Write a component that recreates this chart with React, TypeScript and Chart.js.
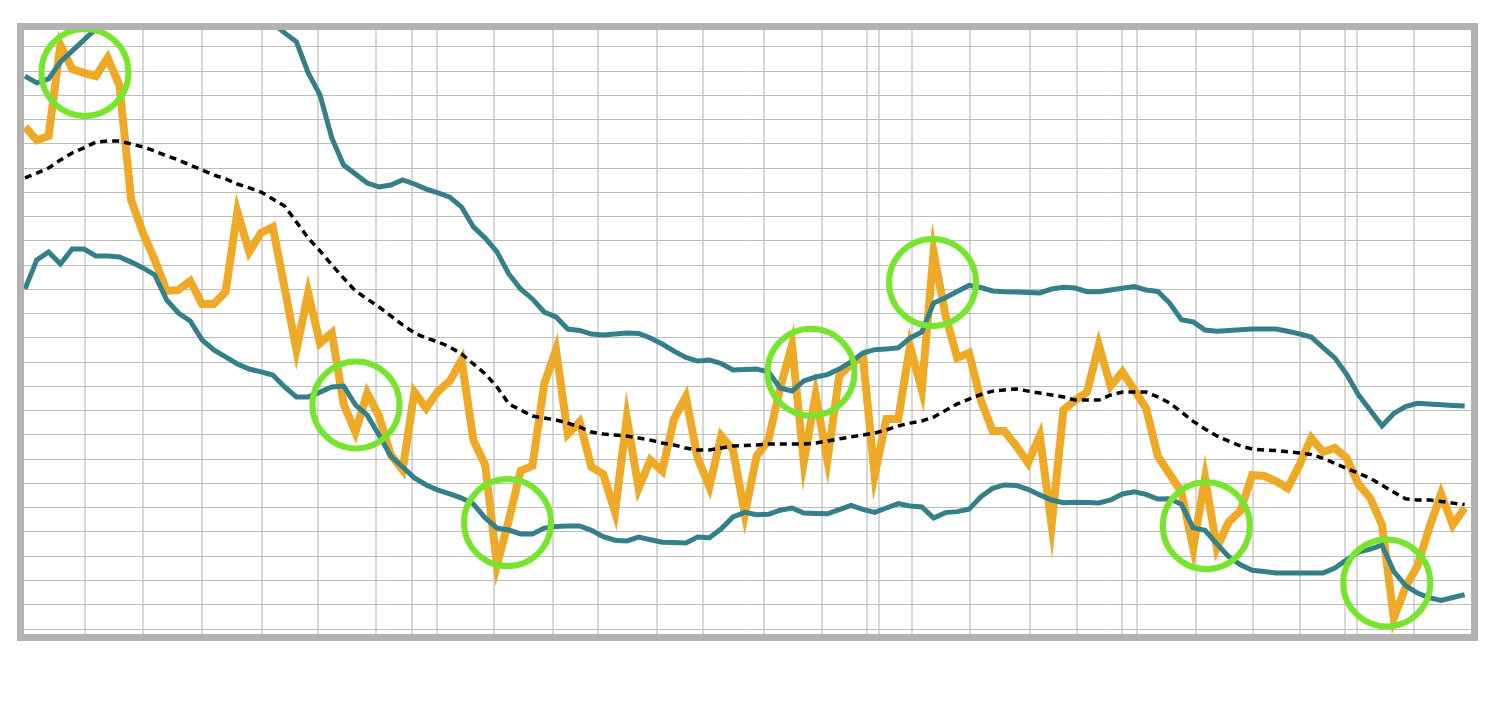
import React, { useEffect, useRef } from 'react';
import { Chart, registerables } from 'chart.js';

Chart.register(...registerables);

// Closing price (grid units, one horizontal grid line per unit)
const price = [
  20.70, 20.16, 20.33, 24.08, 23.09, 22.93, 22.80, 23.55, 22.43, 17.69,
  16.33, 15.22, 13.94, 13.98, 14.35, 13.40, 13.40, 13.90, 17.20, 15.55,
  16.33, 16.58, 14.06, 11.51, 13.86, 11.79, 12.21, 9.28, 8.12, 9.73,
  8.78, 7.18, 6.56, 9.77, 9.11, 9.81, 10.23, 11.09, 7.79, 6.76,
  2.64, 4.49, 6.52, 6.72, 10.10, 11.51, 8.04, 8.54, 6.68, 6.39,
  4.82, 8.70, 5.81, 6.97, 6.52, 8.66, 9.57, 7.05, 5.86, 7.96,
  7.38, 4.74, 7.13, 7.79, 9.94, 11.71, 6.89, 9.65, 6.97, 10.43,
  10.93, 11.26, 6.35, 8.66, 8.66, 11.67, 9.86, 15.55, 12.95, 11.18,
  11.38, 9.44, 8.16, 8.16, 7.55, 6.85, 7.96, 4.29, 9.03, 9.44,
  9.77, 11.71, 10.02, 10.60, 9.86, 9.11, 7.13, 6.39, 5.65, 3.34,
  6.23, 3.34, 4.41, 4.87, 6.35, 6.31, 6.10, 5.81, 6.76, 7.88,
  7.30, 7.46, 7.05, 5.98, 5.40, 4.29, 0.45, 1.73, 2.60, 4.16,
  5.57, 4.29, 4.99,
];

// Moving average (middle band)
const middleBand = [
  18.60, 18.80, 19.01, 19.34, 19.63, 19.84, 20.08, 20.12, 20.12, 20.00,
  19.88, 19.71, 19.51, 19.34, 19.13, 18.93, 18.72, 18.56, 18.35, 18.19,
  18.02, 17.73, 17.44, 16.78, 16.12, 15.59, 15.01, 14.47, 13.94, 13.61,
  13.28, 12.91, 12.54, 12.21, 12.00, 11.84, 11.63, 11.34, 10.93, 10.52,
  9.98, 9.28, 9.03, 8.78, 8.70, 8.62, 8.49, 8.33, 8.12, 8.04,
  8.00, 7.96, 7.88, 7.79, 7.67, 7.59, 7.46, 7.38, 7.38, 7.46,
  7.55, 7.57, 7.59, 7.63, 7.63, 7.63, 7.63, 7.67, 7.75, 7.84,
  7.92, 8.00, 8.08, 8.21, 8.37, 8.49, 8.58, 8.74, 9.01, 9.28,
  9.48, 9.67, 9.81, 9.86, 9.90, 9.81, 9.73, 9.65, 9.57, 9.44,
  9.44, 9.44, 9.65, 9.77, 9.77, 9.77, 9.57, 9.32, 8.95, 8.56,
  8.25, 7.96, 7.75, 7.55, 7.42, 7.38, 7.36, 7.31, 7.26, 7.20,
  7.04, 6.83, 6.62, 6.42, 6.21, 5.93, 5.64, 5.37, 5.32, 5.32,
  5.26, 5.19, 5.13,
];

// Upper Bollinger band
const upperBand = [
  22.80, 22.52, 22.68, 23.38, 23.84, 24.29, 24.74, 24.87, 24.91, 24.87,
  24.87, 24.82, 25.44, 25.65, 25.57, 25.94, 25.94, 25.90, 25.77, 25.65,
  25.44, 24.99, 24.58, 24.21, 22.93, 22.02, 20.25, 19.13, 18.76, 18.39,
  18.23, 18.31, 18.52, 18.35, 18.14, 17.98, 17.81, 17.40, 16.58, 16.12,
  15.55, 14.64, 14.02, 13.61, 13.07, 12.87, 12.37, 12.31, 12.16, 12.12,
  12.16, 12.21, 12.19, 12.00, 11.75, 11.46, 11.20, 11.05, 11.09, 10.95,
  10.68, 10.70, 10.72, 10.60, 9.94, 9.81, 10.23, 10.39, 10.49, 10.72,
  11.01, 11.38, 11.52, 11.55, 11.59, 12.00, 12.25, 13.44, 13.66, 13.92,
  14.17, 14.08, 13.94, 13.91, 13.90, 13.88, 13.86, 14.02, 14.09, 14.06,
  13.91, 13.91, 13.98, 14.05, 14.12, 13.98, 13.92, 13.44, 12.75, 12.66,
  12.33, 12.28, 12.31, 12.34, 12.37, 12.37, 12.37, 12.28, 12.17, 12.04,
  11.60, 11.18, 10.50, 9.66, 9.02, 8.38, 8.89, 9.17, 9.31, 9.28,
  9.25, 9.22, 9.20,
];

// Lower Bollinger band
const lowerBand = [
  14.02, 15.22, 15.55, 15.05, 15.67, 15.67, 15.38, 15.38, 15.34, 15.13,
  14.89, 14.60, 13.57, 13.03, 12.70, 11.92, 11.51, 11.22, 10.93, 10.72,
  10.60, 10.47, 9.98, 9.57, 9.57, 9.77, 9.98, 10.02, 9.24, 8.82,
  8.00, 7.13, 6.68, 6.23, 5.94, 5.73, 5.57, 5.40, 5.15, 4.58,
  4.16, 4.08, 3.92, 3.92, 4.16, 4.23, 4.25, 4.25, 4.07, 3.81,
  3.66, 3.63, 3.79, 3.68, 3.58, 3.57, 3.55, 3.79, 3.76, 4.13,
  4.62, 4.81, 4.71, 4.73, 4.90, 4.99, 4.78, 4.76, 4.75, 4.92,
  5.10, 4.93, 4.81, 4.99, 5.17, 5.07, 5.03, 4.58, 4.80, 4.84,
  4.94, 5.45, 5.80, 5.94, 5.92, 5.76, 5.53, 5.32, 5.21, 5.23,
  5.22, 5.20, 5.32, 5.57, 5.66, 5.55, 5.36, 5.37, 5.14, 4.17,
  4.07, 3.51, 2.99, 2.65, 2.42, 2.37, 2.31, 2.31, 2.31, 2.31,
  2.31, 2.51, 2.85, 3.17, 3.29, 3.46, 2.37, 1.79, 1.48, 1.29,
  1.18, 1.30, 1.42,
];

// Highlighted band touches (day index, level)
const signalDay = [5.08, 28.05, 40.89, 66.61, 76.91, 100.11, 115.4];
const signalLevel = [22.95, 9.24, 4.39, 10.59, 14.29, 4.26, 1.9];

// Vertical grid lines (week / month starts, in day index units)
const weekTicks = [
  5.08, 10.03, 15.03, 20.06, 24.86, 29.75, 32.77, 34.89, 39.77, 44.77,
  48.58, 53.58, 57.48, 62.65, 67.57, 71.38, 72.37, 75.14, 80.11, 85.17,
  89.13, 92.94, 94.26, 99.21, 104.09, 108.05, 111.86, 112.86, 117.74,
];

// Horizontal grid lines
const levelTicks = [
  0, 1, 2, 3, 4, 5, 6, 7, 8, 9, 10, 11, 12, 13, 14, 15, 16, 17, 18, 19, 20, 21, 22, 23, 24,
];

const X_MIN = -0.085;
const X_MAX = 122.54;
const Y_MIN = -0.206;
const Y_MAX = 24.7;

const ORANGE = '#EEAA26';
const TEAL = '#34808A';
const GREEN = '#77E52E';

export default function App() {
  const canvasRef = useRef<HTMLCanvasElement | null>(null);

  useEffect(() => {
    const canvas = canvasRef.current;
    if (!canvas) return;
    const days = price.map((_, i) => i);
    const toPoints = (arr: number[]) => arr.map((v, i) => ({ x: days[i], y: v }));

    const chart = new Chart(canvas, {
      type: 'line',
      data: {
        datasets: [
          {
            label: 'Signals',
            data: signalDay.map((d, k) => ({ x: d, y: signalLevel[k] })),
            showLine: false,
            pointRadius: 43.5,
            pointHoverRadius: 43.5,
            pointBorderWidth: 6,
            pointHoverBorderWidth: 6,
            pointBorderColor: GREEN,
            pointBackgroundColor: 'rgba(0,0,0,0)',
            order: 0,
          },
          {
            label: 'Middle band',
            data: toPoints(middleBand),
            borderColor: '#000000',
            borderWidth: 3.5,
            borderDash: [7, 5],
            pointRadius: 0,
            tension: 0,
            order: 1,
          },
          {
            label: 'Upper band',
            data: toPoints(upperBand),
            borderColor: TEAL,
            borderWidth: 5,
            pointRadius: 0,
            tension: 0,
            order: 2,
          },
          {
            label: 'Lower band',
            data: toPoints(lowerBand),
            borderColor: TEAL,
            borderWidth: 5,
            pointRadius: 0,
            tension: 0,
            order: 2,
          },
          {
            label: 'Price',
            data: toPoints(price),
            borderColor: ORANGE,
            borderWidth: 8,
            borderJoinStyle: 'miter',
            pointRadius: 0,
            tension: 0,
            order: 3,
          },
        ],
      },
      options: {
        animation: false,
        responsive: false,
        maintainAspectRatio: false,
        events: [],
        layout: { padding: 0, autoPadding: false },
        plugins: {
          legend: { display: false },
          tooltip: { enabled: false },
        },
        scales: {
          x: {
            type: 'linear',
            min: X_MIN,
            max: X_MAX,
            afterBuildTicks: (scale: any) => {
              scale.ticks = weekTicks.map((v) => ({ value: v }));
            },
            afterFit: (scale: any) => {
              scale.height = 0;
            },
            ticks: { display: false },
            border: { display: false },
            grid: { color: '#d8d8d8', lineWidth: 2, drawTicks: false },
          },
          y: {
            type: 'linear',
            min: Y_MIN,
            max: Y_MAX,
            afterBuildTicks: (scale: any) => {
              scale.ticks = levelTicks.map((v) => ({ value: v }));
            },
            afterFit: (scale: any) => {
              scale.width = 0;
            },
            ticks: { display: false },
            border: { display: false },
            grid: { color: '#bdbdbd', lineWidth: 1, drawTicks: false },
          },
        },
      },
    });
    return () => chart.destroy();
  }, []);

  return (
    <div
      style={{
        position: 'absolute',
        left: 17,
        top: 23,
        width: 1447,
        height: 604,
        border: '7px solid #b3b3b3',
        background: '#ffffff',
      }}
    >
      <canvas
        ref={canvasRef}
        width={1447}
        height={604}
        style={{ display: 'block', width: 1447, height: 604 }}
      />
    </div>
  );
}
